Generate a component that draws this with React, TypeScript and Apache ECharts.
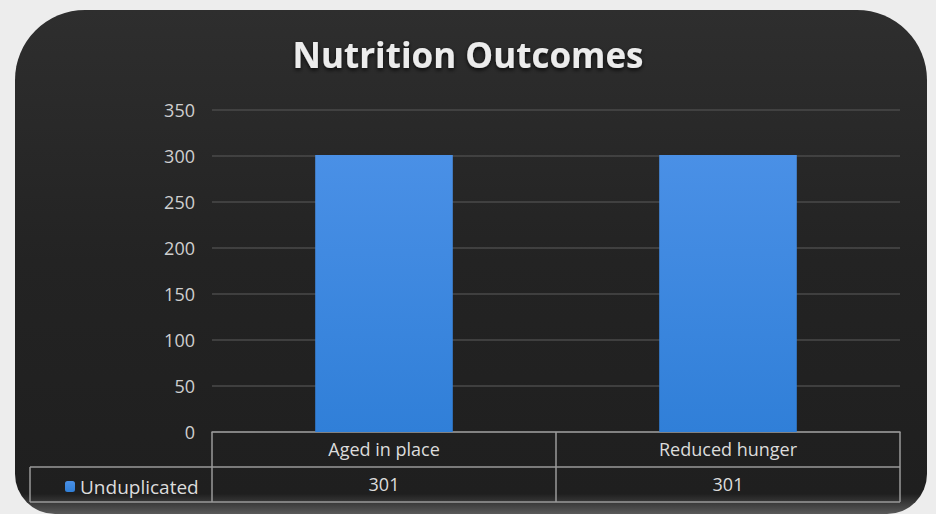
import React, { useEffect, useRef } from "react";
import * as echarts from "echarts";

const categories = ["Aged in place", "Reduced hunger"];
const seriesName = "Unduplicated";
const values = [301, 301];
const yTicks = [0, 50, 100, 150, 200, 250, 300, 350];

const W = 936;
const H = 514;
const GRID_L = 212;
const GRID_R = 36;
const GRID_T = 110;
const GRID_B = 82;
const ROW = 35;
const LEGEND_X = 30;

export default function App() {
  const ref = useRef<HTMLDivElement>(null);
  useEffect(() => {
    if (!ref.current) return;
    const chart = echarts.init(ref.current, null, { renderer: "svg" });
    const axisY = H - GRID_B;
    const right = W - GRID_R;
    const lineStyle = { stroke: "#9a9a9a", lineWidth: 1.5 };
    const font = "'Open Sans', 'Noto Sans', sans-serif";
    chart.setOption({
      animation: false,
      backgroundColor: "#ededed",
      title: {
        text: "Nutrition Outcomes",
        left: "center",
        top: 32,
        textStyle: {
          color: "#ececec",
          fontSize: 35,
          fontWeight: "bold",
          fontFamily: font,
          textShadowColor: "rgba(0,0,0,0.8)",
          textShadowBlur: 4,
          textShadowOffsetY: 2,
        },
      },
      legend: {
        data: [seriesName],
        left: 60,
        top: axisY + ROW + 5,
        itemWidth: 10,
        itemHeight: 11,
        itemGap: 4,
        textStyle: { color: "#dcdcdc", fontSize: 19, fontFamily: font },
      },
      graphic: [
        {
          type: "rect",
          z: -100,
          silent: true,
          shape: { x: 15, y: 10, width: 912, height: 504, r: [70, 70, 40, 40] },
          style: {
            fill: new echarts.graphic.LinearGradient(0, 0, 0, 1, [
              { offset: 0, color: "#2e2e2e" },
              { offset: 0.5, color: "#232323" },
              { offset: 0.96, color: "#1f1f1f" },
              { offset: 1, color: "#5a5a5a" },
            ]),
          },
        },
        { type: "line", silent: true, shape: { x1: LEGEND_X, y1: axisY + ROW, x2: right, y2: axisY + ROW }, style: lineStyle },
        { type: "line", silent: true, shape: { x1: LEGEND_X, y1: axisY + 2 * ROW, x2: right, y2: axisY + 2 * ROW }, style: lineStyle },
        { type: "line", silent: true, shape: { x1: LEGEND_X, y1: axisY + ROW, x2: LEGEND_X, y2: axisY + 2 * ROW }, style: lineStyle },
      ],
      grid: { left: GRID_L, right: GRID_R, top: GRID_T, bottom: GRID_B, containLabel: false },
      xAxis: [
        {
          type: "category",
          data: categories,
          position: "bottom",
          axisLine: { show: true, lineStyle: { color: "#9a9a9a", width: 1.5 } },
          axisTick: { show: true, length: 2 * ROW, lineStyle: { color: "#9a9a9a", width: 1.5 } },
          axisLabel: { color: "#dcdcdc", fontSize: 18, fontFamily: font, margin: 8 },
          splitLine: { show: false },
        },
        {
          type: "category",
          data: categories,
          position: "bottom",
          offset: ROW,
          axisLine: { show: false },
          axisTick: { show: false },
          axisLabel: {
            color: "#dcdcdc",
            fontSize: 18,
            fontFamily: font,
            margin: 8,
            formatter: (_v: string, i: number) => String(values[i]),
          },
        },
      ],
      yAxis: {
        type: "value",
        min: yTicks[0],
        max: yTicks[yTicks.length - 1],
        interval: yTicks[1] - yTicks[0],
        axisLine: { show: false },
        axisTick: { show: false },
        axisLabel: { color: "#cfcfcf", fontSize: 18, fontFamily: font, margin: 17 },
        splitLine: { lineStyle: { color: "#4a4a4a", width: 1.5 } },
      },
      series: [
        {
          name: seriesName,
          type: "bar",
          data: values,
          xAxisIndex: 0,
          barWidth: "40%",
          itemStyle: {
            color: new echarts.graphic.LinearGradient(0, 0, 0, 1, [
              { offset: 0, color: "#4a90e6" },
              { offset: 1, color: "#307fd8" },
            ]),
          },
        },
      ],
    });
    return () => chart.dispose();
  }, []);
  return (
    <div
      ref={ref}
      style={{ position: "fixed", left: 0, top: 0, width: W, height: H }}
    />
  );
}
